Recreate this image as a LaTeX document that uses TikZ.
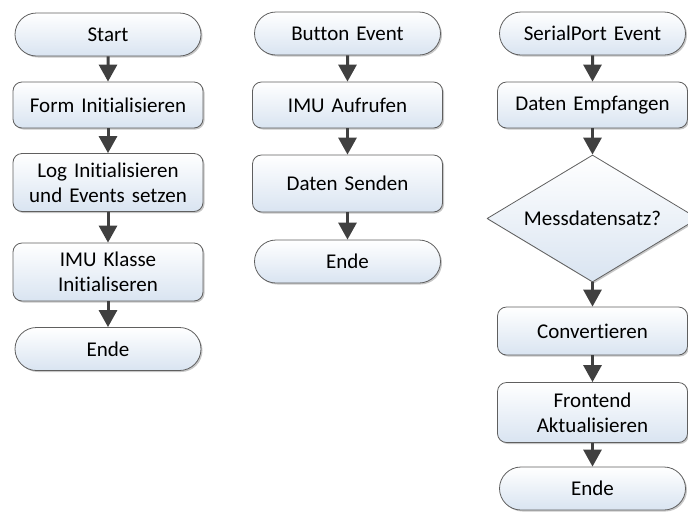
\documentclass[tikz,border=0pt]{standalone}
\usepackage{fontspec}
\setmainfont{Carlito}[Ligatures=NoCommon]
\usepackage{tikz}
\usetikzlibrary{arrows.meta,shapes.misc,shapes.geometric,shadows}

\definecolor{boxblue}{HTML}{D9E4F1}
\definecolor{arrowgray}{HTML}{404040}
\definecolor{edgegray}{HTML}{5F5F5F}

\tikzset{
  chart/.style={draw=edgegray,line width=0.8pt,top color=white,bottom color=boxblue,
    drop shadow={shadow xshift=1.5pt,shadow yshift=-1.5pt,fill=black!22,opacity=1},
    align=center,inner sep=2pt,text width=180pt,
    font=\fontsize{21pt}{25pt}\selectfont},
  terminal/.style={chart,rounded rectangle,minimum width=190pt,minimum height=43pt},
  process/.style={chart,rectangle,rounded corners=9pt,minimum width=190pt,minimum height=46pt},
  decision/.style={chart,diamond,aspect=1.66,text width=,inner sep=0pt,minimum width=211pt,minimum height=127pt},
  flow/.style={arrowgray,line width=3pt,-{Triangle[width=18pt,length=17pt]}},
}

\begin{document}
\begin{tikzpicture}[line join=bevel]
\useasboundingbox (0pt,0pt) rectangle (688pt,-515pt);
%% Programmstart
\node (node_start) at (108pt,-34.5pt) [terminal] {Start};
  \node (node_form) at (108pt,-105pt) [process] {Form Initialisieren};
  \node (node_log) at (108pt,-182.5pt) [process,minimum height=58pt] {Log Initialisieren\\und Events setzen};
  \node (node_imu) at (108pt,-272pt) [process,minimum height=58pt] {IMU Klasse\\Initialiseren};
  \node (node_ende_a) at (108pt,-349pt) [terminal] {Ende};
  \draw [flow] (node_start) -- (node_form);
  \draw [flow] (node_form) -- (node_log);
  \draw [flow] (node_log) -- (node_imu);
  \draw [flow] (node_imu) -- (node_ende_a);
%% Button Event
\node (node_button) at (347.5pt,-33.5pt) [terminal] {Button Event};
  \node (node_aufruf) at (347.5pt,-105pt) [process] {IMU Aufrufen};
  \node (node_senden) at (347.5pt,-183.5pt) [process,minimum height=57pt] {Daten Senden};
  \node (node_ende_b) at (347.5pt,-261.5pt) [terminal] {Ende};
  \draw [flow] (node_button) -- (node_aufruf);
  \draw [flow] (node_aufruf) -- (node_senden);
  \draw [flow] (node_senden) -- (node_ende_b);
%% SerialPort Event
\node (node_serial) at (592.5pt,-33.5pt) [terminal] {SerialPort Event};
  \node (node_empfang) at (592.5pt,-105pt) [process] {Daten Empfangen};
  \node (node_mess) at (592.5pt,-218.5pt) [decision] {Messdatensatz?};
  \node (node_convert) at (592.5pt,-331pt) [process,minimum height=48pt] {Convertieren};
  \node (node_frontend) at (592.5pt,-412.5pt) [process,minimum height=60pt] {Frontend\\Aktualisieren};
  \node (node_ende_c) at (592.5pt,-488.5pt) [terminal] {Ende};
  \draw [flow] (node_serial) -- (node_empfang);
  \draw [flow] (node_empfang) -- (node_mess);
  \draw [flow] (node_mess) -- (node_convert);
  \draw [flow] (node_convert) -- (node_frontend);
  \draw [flow] (node_frontend) -- (node_ende_c);
%
\end{tikzpicture}
\end{document}
